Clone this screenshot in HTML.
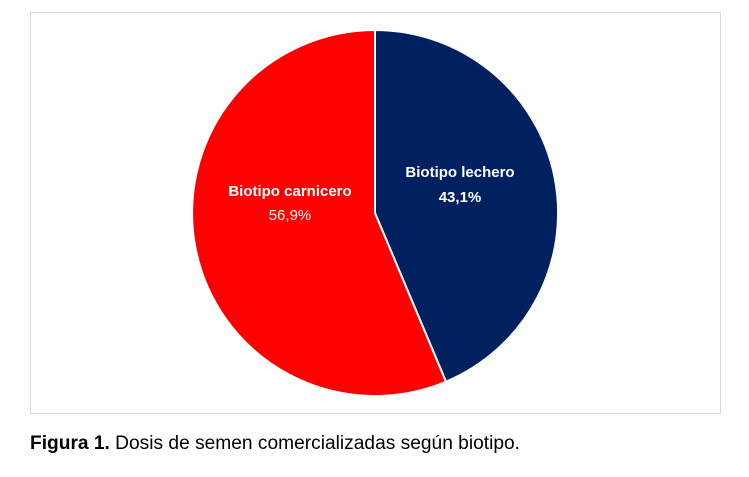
<!DOCTYPE html>
<html><head><meta charset="utf-8"><style>
body{margin:0;width:749px;height:477px;background:#fff;overflow:hidden;font-family:"Liberation Sans",sans-serif}
</style></head><body>
<svg width="749" height="477" xmlns="http://www.w3.org/2000/svg" style="position:absolute;left:0;top:0">
<rect x="30.5" y="12.5" width="690" height="401" fill="#fff" stroke="#d9d9d9"/>
<path d="M375,213 L375,30 A183,183 0 0 1 446,381.7 Z" fill="#002060" stroke="#fff" stroke-width="2"/>
<path d="M375,213 L446,381.7 A183,183 0 1 1 375,30 Z" fill="#ff0000" stroke="#fff" stroke-width="2"/>
<g font-family="Liberation Sans, DejaVu Sans, sans-serif" fill="#fff" font-size="15" text-anchor="middle">
<text x="290" y="196" font-weight="bold">Biotipo carnicero</text>
<text x="290" y="220">56,9%</text>
<text x="460" y="177" font-weight="bold">Biotipo lechero</text>
<text x="460" y="202" font-weight="bold">43,1%</text>
</g>
<text x="30" y="449" font-size="19" fill="#000" textLength="490" lengthAdjust="spacingAndGlyphs"><tspan font-weight="bold">Figura 1.</tspan> Dosis de semen comercializadas según biotipo.</text>
</svg>
</body></html>
